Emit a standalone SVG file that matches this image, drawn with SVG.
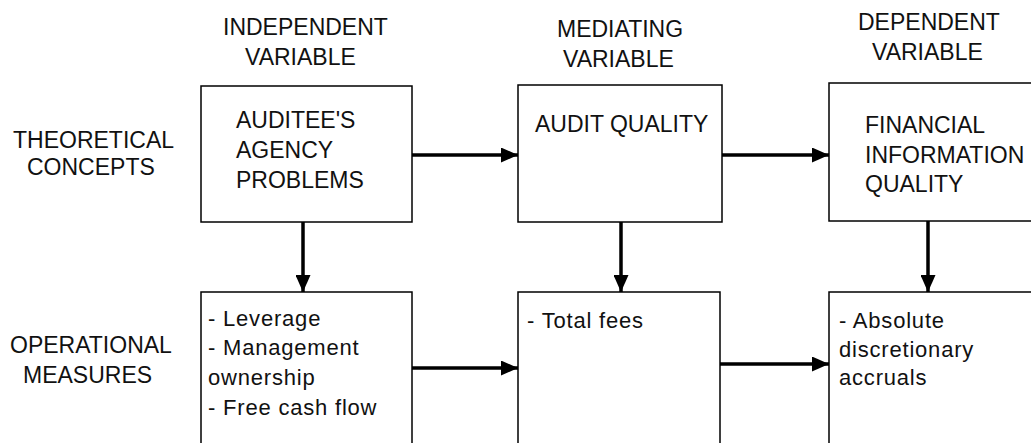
<svg xmlns="http://www.w3.org/2000/svg" width="1031" height="443" viewBox="0 0 1031 443">
<style>
.box{fill:#fff;stroke:#000;stroke-width:1.5}
.hd{font-family:"Liberation Sans",Arial,sans-serif;font-size:23px;fill:#111}
.it{font-family:"Liberation Sans",Arial,sans-serif;font-size:22px;letter-spacing:0.8px;fill:#111}
.conn{stroke:#000;stroke-width:3.5;fill:none}
</style>
<defs>
<marker id="ah" viewBox="0 0 17 15" refX="17" refY="7.5" markerWidth="17" markerHeight="15" markerUnits="userSpaceOnUse" orient="auto">
<path d="M0,0 L17,7.5 L0,15 Z" fill="#000"/>
</marker>
</defs>
<rect width="1031" height="443" fill="#fff"/>
<g id="labels">
<text class="hd" x="223" y="35">INDEPENDENT</text>
<text class="hd" x="245" y="65">VARIABLE</text>
<text class="hd" x="557" y="37">MEDIATING</text>
<text class="hd" x="563" y="67">VARIABLE</text>
<text class="hd" x="858" y="30">DEPENDENT</text>
<text class="hd" x="872" y="60">VARIABLE</text>
<text class="hd" x="13" y="148">THEORETICAL</text>
<text class="hd" x="27" y="175">CONCEPTS</text>
<text class="hd" x="10" y="353">OPERATIONAL</text>
<text class="hd" x="23" y="383">MEASURES</text>
</g>
<g id="n1">
<rect class="box" x="201" y="86" width="211" height="136"/>
<text class="hd" x="236" y="128">AUDITEE'S</text>
<text class="hd" x="236" y="158">AGENCY</text>
<text class="hd" x="236" y="188">PROBLEMS</text>
</g>
<g id="n2">
<rect class="box" x="518" y="85" width="204" height="137"/>
<text class="hd" x="535" y="132">AUDIT QUALITY</text>
</g>
<g id="n3">
<rect class="box" x="829" y="83" width="220" height="138"/>
<text class="hd" x="865" y="133">FINANCIAL</text>
<text class="hd" x="865" y="163">INFORMATION</text>
<text class="hd" x="865" y="192">QUALITY</text>
</g>
<g id="n4">
<rect class="box" x="201" y="292" width="211" height="170"/>
<text class="it" x="208" y="326">- Leverage</text>
<text class="it" x="208" y="355">- Management</text>
<text class="it" x="208" y="385">ownership</text>
<text class="it" x="208" y="415">- Free cash flow</text>
</g>
<g id="n5">
<rect class="box" x="518" y="292" width="202" height="170"/>
<text class="it" x="527" y="328">- Total fees</text>
</g>
<g id="n6">
<rect class="box" x="829" y="292" width="220" height="170"/>
<text class="it" x="839" y="328">- Absolute</text>
<text class="it" x="839" y="357">discretionary</text>
<text class="it" x="839" y="385">accruals</text>
</g>
<g id="connectors">
<line class="conn" x1="412" y1="155" x2="518" y2="155" marker-end="url(#ah)"/>
<line class="conn" x1="722" y1="155" x2="829" y2="155" marker-end="url(#ah)"/>
<line class="conn" x1="412" y1="368" x2="518" y2="368" marker-end="url(#ah)"/>
<line class="conn" x1="720" y1="364" x2="829" y2="364" marker-end="url(#ah)"/>
<line class="conn" x1="303" y1="222" x2="303" y2="292" marker-end="url(#ah)"/>
<line class="conn" x1="621" y1="222" x2="621" y2="292" marker-end="url(#ah)"/>
<line class="conn" x1="928" y1="221" x2="928" y2="292" marker-end="url(#ah)"/>
</g>
</svg>
